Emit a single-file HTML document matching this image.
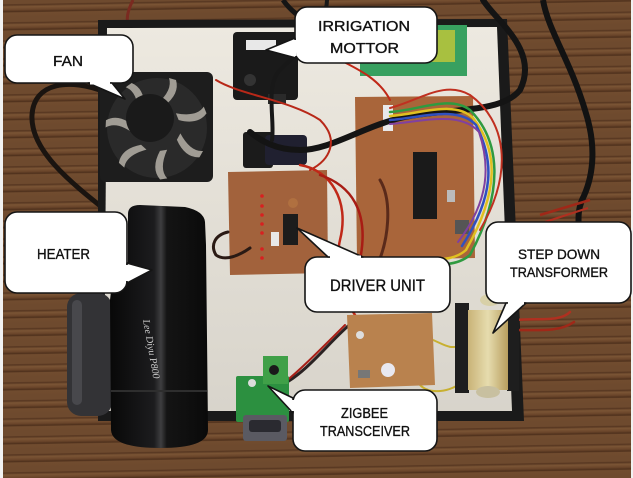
<!DOCTYPE html>
<html><head><meta charset="utf-8"><style>
html,body{margin:0;padding:0}
body{width:633px;height:478px;overflow:hidden;background:repeating-linear-gradient(179deg,#6e4a2e 0px,#6e4a2e 4px,#553520 5px,#7b5535 7px,#6a452a 10px,#4e301c 12px,#714c2f 13px,#6e4a2e 18px)}
svg{position:absolute;left:0;top:0}
text{font-family:"Liberation Sans",sans-serif;fill:#111;stroke:#111;stroke-width:0.35}
</style></head><body>
<svg width="633" height="478" viewBox="0 0 633 478" xmlns="http://www.w3.org/2000/svg">
<defs>
<linearGradient id="brd" x1="0" y1="0" x2="0" y2="1"><stop offset="0" stop-color="#ede9e0"/><stop offset="1" stop-color="#d8d4cb"/></linearGradient>
<linearGradient id="ht" x1="0" y1="0" x2="1" y2="0"><stop offset="0" stop-color="#080808"/><stop offset="0.45" stop-color="#1c1c1e"/><stop offset="0.52" stop-color="#3e3e40"/><stop offset="0.58" stop-color="#141414"/><stop offset="1" stop-color="#0a0a0a"/></linearGradient>
<linearGradient id="tr" x1="0" y1="0" x2="1" y2="0"><stop offset="0" stop-color="#c9b377"/><stop offset="0.5" stop-color="#e6dcae"/><stop offset="1" stop-color="#b89e5e"/></linearGradient>
</defs>
<rect x="0" y="0" width="3" height="478" fill="#f2f2f2"/>
<rect x="631" y="0" width="2" height="478" fill="#f2f2f2"/>
<path d="M283,0 C290,10 300,18 310,22" stroke="#151515" stroke-width="5" fill="none"/>
<path d="M133,0 C128,10 126,18 128,24" stroke="#7a2a20" stroke-width="3" fill="none"/>
<path d="M105,92 C70,78 34,82 32,115 C30,150 70,182 108,212" stroke="#1a1410" stroke-width="5" fill="none"/>
<polygon points="98,20 507,19 524,421 205,421 98,421" fill="#1a1a1a"/>
<polygon points="107,28 497,27 512,411 104,411" fill="url(#brd)"/>
<path d="M543,0 C548,30 570,60 585,110 C598,150 592,180 582,200 C576,215 580,225 578,232" stroke="#121212" stroke-width="6" fill="none"/>
<path d="M540,215 L590,200" stroke="#a02818" stroke-width="2.5" fill="none"/>
<path d="M545,222 L588,208" stroke="#b03020" stroke-width="2" fill="none"/>
<rect x="100" y="72" width="113" height="110" rx="6" fill="#1d1d1d"/>
<circle cx="157" cy="128" r="50" fill="#2a2a2a"/>
<g fill="#a09c94">
<path d="M157,128 m0,-24 q16,-14 12,-26 l7,2 q4,14 -12,26 z" transform="rotate(0 157 128)"/>
<path d="M157,128 m0,-24 q16,-14 12,-26 l7,2 q4,14 -12,26 z" transform="rotate(52 157 128)"/>
<path d="M157,128 m0,-24 q16,-14 12,-26 l7,2 q4,14 -12,26 z" transform="rotate(103 157 128)"/>
<path d="M157,128 m0,-24 q16,-14 12,-26 l7,2 q4,14 -12,26 z" transform="rotate(155 157 128)"/>
<path d="M157,128 m0,-24 q16,-14 12,-26 l7,2 q4,14 -12,26 z" transform="rotate(206 157 128)"/>
<path d="M157,128 m0,-24 q16,-14 12,-26 l7,2 q4,14 -12,26 z" transform="rotate(257 157 128)"/>
<path d="M157,128 m0,-24 q16,-14 12,-26 l7,2 q4,14 -12,26 z" transform="rotate(309 157 128)"/>
</g>
<circle cx="150" cy="118" r="24" fill="#1a1a1a"/>
<rect x="233" y="32" width="65" height="68" rx="4" fill="#1a1a1a"/>
<rect x="246" y="40" width="30" height="10" fill="#e8e8e8"/>
<circle cx="250" cy="80" r="6" fill="#333"/>
<rect x="268" y="94" width="18" height="10" fill="#2a2a2a"/>
<rect x="360" y="25" width="107" height="51" fill="#38a060"/>
<rect x="375" y="30" width="80" height="32" fill="#a8c040"/>
<polygon points="355,97 473,96 475,258 357,260" fill="#a9653a"/>
<rect x="413" y="152" width="24" height="67" fill="#1a1a1a"/>
<rect x="383" y="105" width="10" height="26" fill="#e8e8ea"/>
<rect x="447" y="190" width="8" height="12" fill="#bbb"/>
<rect x="455" y="220" width="14" height="14" fill="#555"/>
<rect x="243" y="132" width="30" height="36" rx="3" fill="#1b1b1b"/>
<rect x="265" y="135" width="42" height="30" rx="4" fill="#202030"/>
<polygon points="228,172 327,170 328,273 230,275" fill="#a2623c"/>
<rect x="283" y="214" width="15" height="31" fill="#1c1c1c"/>
<rect x="271" y="232" width="8" height="14" fill="#e8e8e8"/>
<g fill="#d82020"><circle cx="262" cy="196" r="1.8"/><circle cx="262" cy="206" r="1.8"/><circle cx="262" cy="215" r="1.8"/><circle cx="262" cy="224" r="1.8"/><circle cx="262" cy="233" r="1.8"/><circle cx="262" cy="249" r="1.8"/><circle cx="262" cy="258" r="1.8"/></g>
<circle cx="293" cy="203" r="5" fill="#b07040"/>
<g fill="none" stroke-linecap="round">
<path d="M483,0 C495,20 540,50 520,90 C500,115 440,108 400,118 C360,128 330,150 300,150 C275,150 260,140 250,132" stroke="#141414" stroke-width="6"/>
<path d="M327,0 C326,30 300,50 280,70 C265,85 275,120 272,140" stroke="#181818" stroke-width="4"/>
<path d="M390,112 C420,110 450,95 470,110 C500,140 505,190 470,255 C450,272 420,260 400,262" stroke="#2f9a40" stroke-width="2.5"/>
<path d="M390,116 C420,114 455,100 473,118 C498,150 500,190 466,250 C448,266 420,256 402,258" stroke="#e0c020" stroke-width="2.5"/>
<path d="M390,120 C420,118 458,105 476,125 C494,160 495,195 462,246" stroke="#3050c0" stroke-width="2.5"/>
<path d="M390,124 C420,122 460,110 479,132 C490,165 490,200 458,242" stroke="#8040a0" stroke-width="2"/>
<path d="M390,108 C420,100 445,80 470,95 C505,120 515,170 480,230" stroke="#c03020" stroke-width="2"/>
<path d="M340,60 C360,70 380,80 390,100" stroke="#c02818" stroke-width="2"/>
<path d="M216,80 C240,95 290,100 320,120 C340,140 330,160 310,170" stroke="#b82818" stroke-width="2"/>
<path d="M300,165 C330,170 350,200 340,240 C335,260 345,300 355,315" stroke="#c02818" stroke-width="2.5"/>
<path d="M320,175 C350,185 370,210 360,260" stroke="#a81c14" stroke-width="2.5"/>
<path d="M380,180 C392,200 390,240 375,270" stroke="#5a2a1a" stroke-width="3"/>
<path d="M228,232 C215,235 210,245 216,255 C225,262 240,255 250,248" stroke="#2a1a14" stroke-width="3"/>
<path d="M355,320 C330,340 310,370 282,385" stroke="#2a2222" stroke-width="3"/>
<path d="M345,325 C320,350 300,370 285,382" stroke="#a82018" stroke-width="2"/>
<path d="M515,320 C540,318 560,322 570,312" stroke="#b03020" stroke-width="2.5"/>
<path d="M515,330 C540,330 560,332 574,322" stroke="#a02818" stroke-width="2.5"/>
<path d="M433,340 C445,345 450,350 462,345" stroke="#c8b030" stroke-width="2"/>
<path d="M420,385 C430,395 450,392 462,382" stroke="#c8b030" stroke-width="2"/>
</g>
<polygon points="347,315 432,313 435,385 350,388" fill="#b9824e"/>
<circle cx="388" cy="370" r="7" fill="#e8e8f0"/>
<rect x="358" y="370" width="12" height="8" fill="#777"/>
<circle cx="360" cy="335" r="4" fill="#ddd"/>
<rect x="455" y="303" width="14" height="90" fill="#1e1e1e"/>
<rect x="507" y="303" width="12" height="88" fill="#1e1e1e"/>
<rect x="468" y="310" width="40" height="80" fill="url(#tr)"/>
<ellipse cx="490" cy="300" rx="10" ry="6" fill="#d8d0a8"/>
<ellipse cx="488" cy="392" rx="12" ry="6" fill="#c8c0a0"/>
<rect x="67" y="293" width="45" height="123" rx="14" fill="#333336"/>
<rect x="72" y="300" width="10" height="105" rx="5" fill="#48484c"/>
<path d="M128,214 Q128,205 140,205 L185,207 Q204,211 205,222 L206,245 L208,430 Q208,448 160,448 Q112,448 111,430 L110,300 Q112,275 128,262 Z" fill="url(#ht)"/>
<rect x="111" y="390" width="96" height="2" fill="#2e2e2e"/>
<text x="0" y="0" transform="translate(143,320) rotate(80)" style="font-family:'Liberation Serif',serif;font-style:italic;font-size:10px;fill:#cfcfcf;stroke:none">Lee Diyu P800</text>
<rect x="236" y="376" width="53" height="46" rx="2" fill="#2c9040"/>
<rect x="263" y="356" width="25" height="28" fill="#40a048"/>
<circle cx="274" cy="370" r="5" fill="#1a1a1a"/>
<circle cx="252" cy="383" r="4" fill="#dcdcdc"/>
<rect x="243" y="415" width="44" height="26" rx="3" fill="#5a5a62"/>
<rect x="249" y="420" width="32" height="12" rx="3" fill="#2a2a30"/>
<g fill="#ffffff" stroke="#151515" stroke-width="1.6" stroke-linejoin="round">
<rect x="5" y="35" width="128" height="48" rx="12"/>
<polygon points="88,83 125,99 112,83"/>
<rect x="295" y="7" width="142" height="56" rx="12"/>
<polygon points="295,38 266,50 296,58"/>
<rect x="5" y="212" width="122" height="81" rx="12"/>
<polygon points="127,263 152,270 127,283"/>
<rect x="305" y="257" width="145" height="55" rx="12"/>
<polygon points="328,257 297,228 363,257"/>
<rect x="486" y="222" width="145" height="81" rx="12"/>
<polygon points="506,303 493,333 526,303"/>
<rect x="293" y="390" width="144" height="61" rx="12"/>
<polygon points="293,398 268,386 293,413"/>
</g>
<g stroke="#ffffff" stroke-width="3">
<line x1="90" y1="83" x2="110" y2="83"/>
<line x1="295" y1="40" x2="295" y2="56"/>
<line x1="127" y1="265" x2="127" y2="281"/>
<line x1="330" y1="257" x2="361" y2="257"/>
<line x1="508" y1="303" x2="524" y2="303"/>
<line x1="293" y1="400" x2="293" y2="411"/>
</g>
<text x="53" y="66" font-size="15" textLength="30" lengthAdjust="spacingAndGlyphs">FAN</text>
<text x="318" y="31" font-size="15" textLength="92" lengthAdjust="spacingAndGlyphs">IRRIGATION</text>
<text x="330" y="53" font-size="15" textLength="69" lengthAdjust="spacingAndGlyphs">MOTTOR</text>
<text x="37" y="259" font-size="15" textLength="53" lengthAdjust="spacingAndGlyphs">HEATER</text>
<text x="330" y="291" font-size="17" textLength="95" lengthAdjust="spacingAndGlyphs">DRIVER UNIT</text>
<text x="518" y="259" font-size="14" textLength="82" lengthAdjust="spacingAndGlyphs">STEP DOWN</text>
<text x="510" y="277" font-size="14" textLength="98" lengthAdjust="spacingAndGlyphs">TRANSFORMER</text>
<text x="341" y="418" font-size="15" textLength="47" lengthAdjust="spacingAndGlyphs">ZIGBEE</text>
<text x="320" y="436" font-size="15" textLength="90" lengthAdjust="spacingAndGlyphs">TRANSCEIVER</text>
</svg>
</body></html>
